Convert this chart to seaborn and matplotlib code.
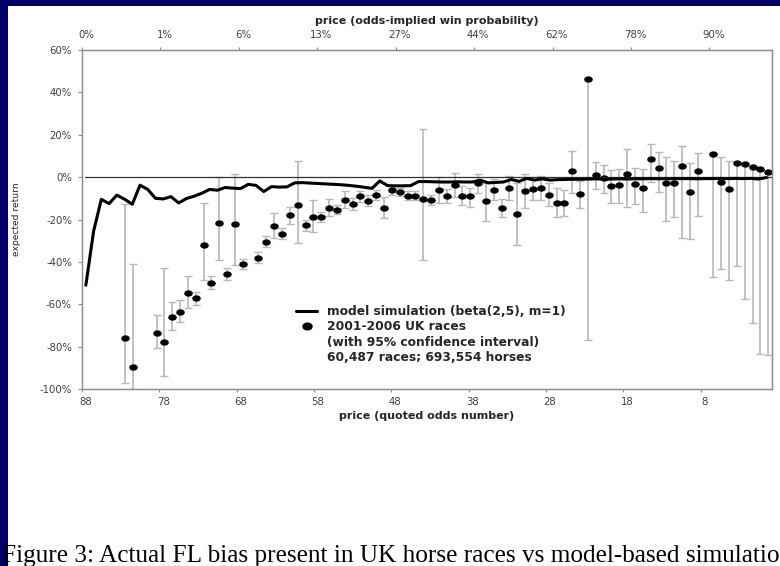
import matplotlib
matplotlib.use("Agg")
import matplotlib.pyplot as plt
from matplotlib.lines import Line2D
from matplotlib.patches import Rectangle
from matplotlib.path import Path
from matplotlib.transforms import Affine2D
from matplotlib.ticker import FuncFormatter
import seaborn as sns

# ---------------------------------------------------------------------------
# Data (expected return in %)
# ---------------------------------------------------------------------------
model_odds = list(range(88, -1, -1))
model_return = [
    -51.0, -25.5, -10.5, -12.5, -8.5, -10.4, -12.8, -3.8, -5.8, -10.0,   # 88..79
    -10.3, -9.2, -12.2, -10.1, -9.0, -7.6, -5.8, -6.2, -4.9, -5.2,       # 78..69
    -5.4, -3.4, -3.9, -6.8, -4.5, -4.7, -4.6, -2.7, -2.6, -2.8,          # 68..59
    -3.0, -3.2, -3.4, -3.6, -3.9, -4.3, -4.8, -5.3, -1.8, -4.0,          # 58..49
    -4.1, -4.1, -4.0, -2.1, -2.1, -2.2, -2.3, -2.3, -2.2, -2.3,          # 48..39
    -2.3, -1.4, -2.7, -2.5, -2.3, -1.1, -2.0, -0.6, -1.4, -0.8,          # 38..29
    -1.4, -1.2, -1.1, -1.0, -1.0, -0.9, -0.8, -1.0, -0.9, -0.8,          # 28..19
    -0.9, -0.8, -0.8, -0.7, -0.8, -0.7, -0.8, -0.7, -0.7, -0.8,          # 18..9
    -0.7, -0.7, -0.6, -0.7, -0.6, -0.7, -0.6, -0.9, -0.2,                # 8..0
]

race_odds = [83, 82, 79, 78, 77, 76, 75, 74, 73, 72, 71, 70, 69, 68, 66,
             65, 64, 63, 62, 61, 60, 59, 58, 57, 56, 55, 54, 53, 52, 51,
             50, 49, 48, 47, 46, 45, 44, 43, 42, 41, 40, 39, 38, 37, 36,
             35, 34, 33, 32, 31, 30, 29, 28, 27, 26, 25, 24, 23, 22, 21,
             20, 19, 18, 17, 16, 15, 14, 13, 12, 11, 10, 8, 7, 6, 5,
             4, 3, 2, 1]
race_return = [-75.8, -89.5, -73.7, -77.7, -66.2, -63.5, -54.6, -57.2, -32.0, -49.8,
               -21.5, -45.8, -21.9, -41.0, -38.0, -30.5, -23.1, -26.9, -17.9, -13.2,
               -22.8, -18.7, -18.7, -14.8, -15.3, -10.8, -12.7, -8.8, -11.3, -8.5,
               -14.5, -6.1, -6.9, -8.8, -8.8, -10.4, -10.8, -6.1, -9.0, -3.8,
               -8.8, -8.8, -3.0, -11.5, -6.1, -14.8, -5.3, -17.6, -6.6, -5.8,
               -5.0, -8.5, -12.1, -12.1, 2.8, -8.2, 46.5, 0.9, -0.6, -4.2,
               -3.8, 1.7, -3.3, -5.0, 8.5, 4.4, -2.7, -3.0, 5.3, -7.2,
               2.8, 10.8, -2.2, -5.7, 6.8, 6.1, 4.9, 3.8, 2.2]
race_low = [-97.0, -100.0, -80.5, -93.9, -72.2, -68.2, -62.0, -60.4, -48.6, -53.0,
            -39.0, -48.5, -41.5, -43.5, -40.6, -32.9, -28.9, -29.4, -21.9, -31.3,
            -25.3, -25.8, -21.0, -18.4, -17.5, -14.8, -15.3, -11.6, -13.7, -10.8,
            -19.5, -8.5, -9.1, -10.8, -10.8, -39.2, -13.2, -12.4, -12.4, -9.3,
            -13.2, -14.0, -7.7, -20.5, -10.8, -19.0, -10.8, -32.0, -14.8, -10.8,
            -10.8, -13.7, -18.7, -18.4, -7.7, -14.5, -77.0, -5.8, -7.7, -12.1,
            -12.1, -14.0, -12.7, -16.4, -2.2, -6.9, -20.6, -18.7, -28.9, -29.4,
            -18.2, -47.0, -43.5, -48.6, -42.0, -57.7, -69.0, -83.5, -84.0]
race_high = [-12.9, -41.2, -65.0, -42.8, -58.8, -58.0, -46.5, -54.0, -12.4, -46.5,
             0.0, -43.0, 1.4, -38.5, -35.3, -27.8, -17.1, -24.2, -14.0, 7.5,
             -20.0, -10.8, -16.5, -10.4, -13.0, -6.4, -10.0, -6.4, -8.5, -6.1,
             -9.6, -4.2, -4.9, -6.4, -6.4, 22.6, -8.5, 0.0, -5.6, 2.0,
             -4.2, -4.9, 1.7, -3.0, -1.1, -10.4, 0.5, -3.0, 1.4, 0.0,
             0.5, -3.0, -5.3, -6.1, 12.4, -1.7, 46.5, 7.2, 5.7, 3.3,
             3.8, 13.5, 4.4, 3.8, 15.6, 11.9, 9.3, 7.7, 14.8, 6.9,
             11.2, 10.8, 9.3, 7.5, 6.8, 6.1, 4.9, 3.8, 2.2]

odds_ticks = [88, 78, 68, 58, 48, 38, 28, 18, 8]
odds_labels = ["88", "78", "68", "58", "48", "38", "28", "18", "8"]
prob_labels = ["0%", "1%", "6%", "13%", "27%", "44%", "62%", "78%", "90%"]
y_ticks = [-100, -80, -60, -40, -20, 0, 20, 40, 60]

legend_labels = [
    "model simulation (beta(2,5), m=1)",
    "2001-2006 UK races",
    "(with 95% confidence interval)",
    "60,487 races; 693,554 horses",
]
caption = "Figure 3: Actual FL bias present in UK horse races vs model-based simulatio"

# ---------------------------------------------------------------------------
# Style
# ---------------------------------------------------------------------------
NAVY = "#000066"
SPINE = "#8a8a8a"
TICK_TEXT = "#404040"
BAR_GREY = "#b8b8b8"

sns.set_style("white")
plt.rcParams["font.family"] = ["DejaVu Sans"]

W, H = 780, 566
fig = plt.figure(figsize=(W / 100, H / 100), dpi=100, facecolor=NAVY)
fig.add_artist(Rectangle((8 / W, 0), 1, 1 - 6 / H, transform=fig.transFigure,
                         facecolor="white", edgecolor="none", zorder=-5))

left, right, top, bottom = 82, 772, 50, 389
ax = fig.add_axes([left / W, 1 - bottom / H, (right - left) / W, (bottom - top) / H])
ax2 = ax.twiny()
ax.set_zorder(ax2.get_zorder() + 1)
ax.patch.set_visible(False)

# slightly wider-than-tall dot, as in the source
ellipse = Path.unit_circle().transformed(Affine2D().scale(1.35, 1.0))

# race data (secondary axis: top scale)
low_err = [r - lo for r, lo in zip(race_return, race_low)]
high_err = [hi - r for r, hi in zip(race_return, race_high)]
ax2.errorbar(race_odds, race_return, yerr=[low_err, high_err], fmt="none",
             ecolor=BAR_GREY, elinewidth=1.2, capsize=2.6, capthick=1.0, zorder=2)
sns.scatterplot(x=race_odds, y=race_return, ax=ax2, color="black", marker=ellipse,
                s=38, linewidth=0, zorder=3, legend=False)

# model line (primary axis: bottom scale)
ax.axhline(0, xmin=3 / (right - left), color="#333333", linewidth=0.9, zorder=2)
sns.lineplot(x=model_odds, y=model_return, ax=ax, color="black", linewidth=2.2,
             zorder=4, legend=False)

ax.set_xlim(88.39, -0.71)
ax2.set_xlim(88.38, 0.53)
ax.set_ylim(-100, 60)

# ticks: labels at category centres, tick marks at category boundaries
ax.set_xticks(odds_ticks)
ax.set_xticklabels(odds_labels)
ax.set_xticks([t + 0.5 for t in odds_ticks], minor=True)
ax2.set_xticks(odds_ticks)
ax2.set_xticklabels(prob_labels)
ax2.set_xticks([t + 0.5 for t in odds_ticks], minor=True)
ax.set_yticks(y_ticks)
ax.yaxis.set_major_formatter(FuncFormatter(lambda v, _: f"{v:.0f}%"))

ax.tick_params(axis="x", which="major", bottom=True, top=False, length=0,
               pad=5.5, labelsize=7.3, labelcolor=TICK_TEXT)
ax.tick_params(axis="x", which="minor", bottom=True, top=False, length=2.5,
               width=0.8, color=SPINE, direction="out")
ax2.tick_params(axis="x", which="major", top=True, bottom=False, length=0,
                pad=7, labelsize=7.3, labelcolor=TICK_TEXT)
ax2.tick_params(axis="x", which="minor", top=True, bottom=False, length=2.5,
                width=0.8, color=SPINE, direction="out")
ax.tick_params(axis="y", left=True, right=False, length=3.2, width=0.8,
               color=SPINE, direction="out", pad=4, labelsize=7.3,
               labelcolor=TICK_TEXT)

for a in (ax, ax2):
    for s in a.spines.values():
        s.set_visible(True)
        s.set_color(SPINE)
        s.set_linewidth(0.9)

ax.set_xlabel("price (quoted odds number)", fontsize=8, fontweight="bold")
ax.xaxis.set_label_coords(0.5, (bottom - 411) / (bottom - top))
ax2.set_xlabel("price (odds-implied win probability)", fontsize=8, fontweight="bold")
ax2.xaxis.set_label_coords(0.5, (bottom - 24) / (bottom - top))
ax.set_ylabel("expected return", fontsize=6.6)
ax.yaxis.set_label_coords((21 - left) / (right - left), 0.5)

handles = [
    Line2D([], [], color="black", linewidth=2.2),
    Line2D([], [], color="black", marker=ellipse, markersize=6.5, linestyle="none"),
    Line2D([], [], linestyle="none"),
    Line2D([], [], linestyle="none"),
]
fig.legend(handles, legend_labels, loc="upper left",
           bbox_to_anchor=(296 / W, 1 - 305 / H), frameon=False,
           prop={"weight": "bold", "size": 8.8}, handlelength=1.72,
           handletextpad=0.82, labelspacing=0.2, borderpad=0, borderaxespad=0)

fig.text(2 / W, 1 - 562 / H, caption, fontsize=18.2, va="baseline", ha="left",
         family=["Liberation Serif", "DejaVu Serif"], color="black")

fig.savefig("out.png", dpi=100, facecolor=NAVY)
